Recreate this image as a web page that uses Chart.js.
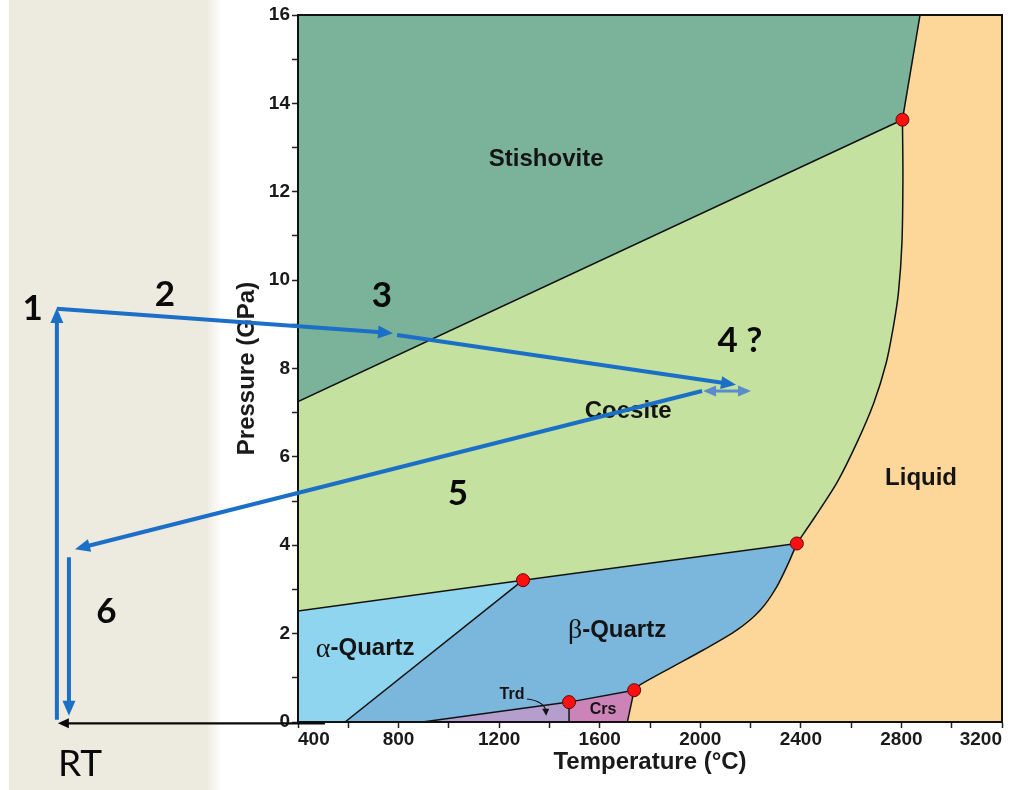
<!DOCTYPE html>
<html>
<head>
<meta charset="utf-8">
<script src="https://cdn.jsdelivr.net/npm/chart.js@4.4.1/dist/chart.umd.min.js"></script>
<style>
  html, body { margin: 0; padding: 0; background: #ffffff; }
  #wrap { width: 1012px; height: 790px; }
</style>
</head>
<body>
<div id="wrap"><canvas id="phase" width="1012" height="790"></canvas></div>
<script>
// ---- SiO2 phase boundaries: temperature (°C) and pressure (GPa) ----
const stishCoesT = [400, 2804];
const stishCoesP = [7.25, 13.63];
const stishLiqT = [2804, 2874];
const stishLiqP = [13.63, 16];
const coesLiqT = [2804, 2806, 2802, 2788, 2768, 2739, 2690, 2622, 2543, 2457, 2384];
const coesLiqP = [13.63, 12.34, 10.84, 9.71, 8.95, 8.12, 7.22, 6.31, 5.41, 4.65, 4.04];
const coesAqzT = [400, 1295];
const coesAqzP = [2.51, 3.21];
const coesBqzT = [1295, 2384];
const coesBqzP = [3.21, 4.04];
const aqzBqzT = [587, 1295];
const aqzBqzP = [0, 3.21];
const bqzLiqT = [2384, 2350, 2304, 2238, 2145, 2012, 1880, 1760, 1737];
const bqzLiqP = [4.04, 3.59, 3.06, 2.53, 2.08, 1.63, 1.22, 0.84, 0.72];
const bqzCrsT = [1478, 1737];
const bqzCrsP = [0.45, 0.72];
const crsLiqT = [1737, 1710];
const crsLiqP = [0.72, 0];
const trdBqzT = [895, 1478];
const trdBqzP = [0, 0.45];
const trdCrsT = [1478, 1478];
const trdCrsP = [0.45, 0];

// invariant points
const tripleT = [1295, 1478, 1737, 2384, 2804];
const tripleP = [3.21, 0.45, 0.72, 4.04, 13.63];

// axis extents and labelled ticks
const tempRange = [400, 3200];
const pressRange = [0, 16];
const tempTicks = [400, 800, 1200, 1600, 2000, 2400, 2800, 3200];
const pressTicks = [0, 2, 4, 6, 8, 10, 12, 14, 16];

// experiment path legs (the room-temperature side lies left of the T axis)
const legNames = ['1', '2', '3', '5', '6'];
const legFromT = [-559, -559, 794, 2007, -511];
const legFromP = [0.05, 9.35, 8.76, 7.49, 3.73];
const legToT = [-559, 778, 2142, -487, -511];
const legToP = [9.37, 8.80, 7.63, 3.91, 0.14];
// step 4: uncertain holding temperature
const holdT = [2011, 2202];
const holdP = [7.49, 7.49];
// quench back to room temperature at ambient pressure
const rtT = [507, -555];
const rtP = [-0.03, -0.03];

// ---- helpers ----
const zip = (T, P) => T.map((t, i) => ({ x: t, y: P[i] }));
const rev = a => a.slice().reverse();

const poly = {
  stish: [{ x: 400, y: 16 }, ...rev(zip(stishLiqT, stishLiqP)), ...rev(zip(stishCoesT, stishCoesP))],
  coes: [...zip(stishCoesT, stishCoesP), ...zip(coesLiqT, coesLiqP), ...rev(zip(coesBqzT, coesBqzP)), ...rev(zip(coesAqzT, coesAqzP))],
  liq: [{ x: 3200, y: 16 }, { x: 3200, y: 0 }, ...rev(zip(crsLiqT, crsLiqP)), ...rev(zip(bqzLiqT, bqzLiqP)), ...rev(zip(coesLiqT, coesLiqP)), ...zip(stishLiqT, stishLiqP)],
  aqz: [{ x: 400, y: 0 }, ...zip(coesAqzT, coesAqzP), ...rev(zip(aqzBqzT, aqzBqzP))],
  bqz: [...zip(aqzBqzT, aqzBqzP), ...zip(coesBqzT, coesBqzP), ...zip(bqzLiqT, bqzLiqP), ...rev(zip(bqzCrsT, bqzCrsP)), ...rev(zip(trdBqzT, trdBqzP))],
  trd: [...zip(trdBqzT, trdBqzP), ...zip(trdCrsT, trdCrsP)],
  crs: [...rev(zip(trdCrsT, trdCrsP)), ...zip(bqzCrsT, bqzCrsP), ...zip(crsLiqT, crsLiqP)]
};
const phaseColor = {
  stish: '#7bb39a', coes: '#c4e19f', liq: '#fdd699', aqz: '#8fd5ef',
  bqz: '#7bb6dc', trd: '#b59ecd', crs: '#cc84b8'
};

const regionSets = Object.keys(poly).map(k => ({
  data: poly[k], showLine: true, fill: 'shape', tension: 0,
  backgroundColor: phaseColor[k], borderColor: phaseColor[k], borderWidth: 1,
  pointRadius: 0, order: 30
}));

const boundaries = [
  [stishCoesT, stishCoesP, 0], [stishLiqT, stishLiqP, 0], [coesLiqT, coesLiqP, 0.25],
  [coesAqzT, coesAqzP, 0], [coesBqzT, coesBqzP, 0], [aqzBqzT, aqzBqzP, 0],
  [bqzLiqT, bqzLiqP, 0.25], [bqzCrsT, bqzCrsP, 0], [crsLiqT, crsLiqP, 0],
  [trdBqzT, trdBqzP, 0], [trdCrsT, trdCrsP, 0]
];
const boundarySets = boundaries.map(([T, P, tn]) => ({
  data: zip(T, P), showLine: true, fill: false, tension: tn,
  borderColor: '#121212', borderWidth: 1.5, pointRadius: 0, order: 20
}));

const tripleSet = {
  data: zip(tripleT, tripleP), showLine: false, order: 10,
  pointRadius: 6.5, pointBackgroundColor: '#ff1010', pointBorderColor: '#5a0a0a', pointBorderWidth: 1
};

// ---- drawing helpers ----
const SANS = '"Liberation Sans", Arial, sans-serif';
const SERIF = '"Liberation Serif", "Times New Roman", serif';
const STEP = 'Lato, "Open Sans", sans-serif';

function arrowLine(ctx, x1, y1, x2, y2, o) {
  const a = Math.atan2(y2 - y1, x2 - x1);
  const c = Math.cos(a), s = Math.sin(a);
  const head = (tx, ty, dir) => {
    const bx = tx - dir * o.head * c, by = ty - dir * o.head * s;
    ctx.beginPath();
    ctx.moveTo(tx, ty);
    ctx.lineTo(bx + o.headW / 2 * s, by - o.headW / 2 * c);
    ctx.lineTo(bx - o.headW / 2 * s, by + o.headW / 2 * c);
    ctx.closePath();
    ctx.fill();
  };
  let sx = x1, sy = y1;
  if (o.both) { sx = x1 + o.head * 0.8 * c; sy = y1 + o.head * 0.8 * s; }
  const ex = x2 - o.head * 0.8 * c, ey = y2 - o.head * 0.8 * s;
  ctx.strokeStyle = o.color;
  ctx.fillStyle = o.color;
  ctx.lineWidth = o.width;
  ctx.lineCap = 'butt';
  ctx.beginPath();
  ctx.moveTo(sx, sy);
  ctx.lineTo(ex, ey);
  ctx.stroke();
  head(x2, y2, 1);
  if (o.both) head(x1, y1, -1);
}

const decor = {
  id: 'decor',
  beforeDraw(chart) {
    const ctx = chart.ctx;
    ctx.save();
    ctx.fillStyle = '#ffffff';
    ctx.fillRect(0, 0, chart.width, chart.height);
    ctx.fillStyle = '#edeae0';
    ctx.fillRect(9, 0, 199, chart.height);
    const g = ctx.createLinearGradient(206, 0, 222, 0);
    g.addColorStop(0, '#edeae0');
    g.addColorStop(1, 'rgba(237,234,224,0)');
    ctx.fillStyle = g;
    ctx.fillRect(206, 0, 16, chart.height);
    ctx.restore();
  },
  afterDraw(chart) {
    const ctx = chart.ctx;
    const xs = chart.scales.x, ys = chart.scales.y;
    const X = v => xs.getPixelForValue(v);
    const Y = v => ys.getPixelForValue(v);
    const a = chart.chartArea;
    ctx.save();

    // frame
    ctx.strokeStyle = '#111';
    ctx.lineWidth = 2;
    ctx.strokeRect(a.left, a.top, a.right - a.left, a.bottom - a.top);

    // phase names
    ctx.fillStyle = '#141414';
    ctx.textAlign = 'center';
    ctx.textBaseline = 'middle';
    const name = (txt, t, p, size) => {
      ctx.font = 'bold ' + size + 'px ' + SANS;
      ctx.fillText(txt, X(t), Y(p));
    };
    name('Stishovite', 1387, 12.74, 24);
    name('Coesite', 1713, 7.02, 24);
    name('Liquid', 2878, 5.52, 24);
    name('Trd', 1251, 0.63, 16);
    name('Crs', 1613, 0.29, 16);
    const greekName = (greek, rest, t, p) => {
      ctx.font = '28px ' + SERIF;
      const w1 = ctx.measureText(greek).width;
      ctx.font = 'bold 24px ' + SANS;
      const w2 = ctx.measureText(rest).width;
      const x0 = X(t) - (w1 + w2) / 2;
      ctx.textAlign = 'left';
      ctx.font = '28px ' + SERIF;
      ctx.fillText(greek, x0, Y(p) + 1);
      ctx.font = 'bold 24px ' + SANS;
      ctx.fillText(rest, x0 + w1, Y(p));
      ctx.textAlign = 'center';
    };
    greekName('\u03b1', '-Quartz', 667, 1.67);
    greekName('\u03b2', '-Quartz', 1669, 2.08);

    // Trd pointer
    const p0 = [X(1310), Y(0.52)], pc = [X(1375), Y(0.48)], p1 = [X(1387), Y(0.14)];
    ctx.strokeStyle = '#141414';
    ctx.lineWidth = 1.2;
    ctx.beginPath();
    ctx.moveTo(p0[0], p0[1]);
    ctx.quadraticCurveTo(pc[0], pc[1], p1[0], p1[1] - 5);
    ctx.stroke();
    ctx.fillStyle = '#141414';
    ctx.beginPath();
    ctx.moveTo(p1[0], p1[1]);
    ctx.lineTo(p1[0] - 4, p1[1] - 7);
    ctx.lineTo(p1[0] + 3, p1[1] - 7);
    ctx.closePath();
    ctx.fill();

    // experiment path
    const blue = '#1b6fc6';
    legNames.forEach((n, i) => {
      arrowLine(ctx, X(legFromT[i]), Y(legFromP[i]), X(legToT[i]), Y(legToP[i]),
        { color: blue, width: 4, head: 15, headW: 13 });
    });
    arrowLine(ctx, X(holdT[0]), Y(holdP[0]), X(holdT[1]), Y(holdP[1]),
      { color: '#5a8bcb', width: 3, head: 13, headW: 11, both: true });
    arrowLine(ctx, X(rtT[0]), Y(rtP[0]), X(rtT[1]), Y(rtP[1]),
      { color: '#0a0a0a', width: 2.2, head: 11, headW: 10 });

    // step numbers
    ctx.fillStyle = '#0a0a0a';
    ctx.font = 'bold 35px ' + STEP;
    ctx.textAlign = 'center';
    ctx.textBaseline = 'middle';
    const step = (txt, t, p) => ctx.fillText(txt, X(t), Y(p));
    step('1', -655, 9.35);
    step('2', -129, 9.66);
    step('3', 734, 9.64);
    step('4 ?', 2158, 8.62);
    step('5', 1036, 5.16);
    step('6', -362, 2.5);
    ctx.font = '37px ' + STEP;
    ctx.fillText('RT', X(-467), Y(-0.95));

    ctx.restore();
  }
};

new Chart(document.getElementById('phase'), {
  type: 'scatter',
  data: { datasets: [tripleSet, ...boundarySets, ...regionSets] },
  options: {
    responsive: false,
    animation: false,
    devicePixelRatio: 1,
    layout: { padding: { left: 225, top: 15, right: 10, bottom: 0 } },
    plugins: { legend: { display: false }, tooltip: { enabled: false } },
    scales: {
      x: {
        type: 'linear', min: tempRange[0], max: tempRange[1], z: 1,
        ticks: {
          stepSize: 200, autoSkip: false, maxRotation: 0, align: 'inner', padding: 0,
          color: '#1a1a1a', font: { family: SANS, weight: 'bold', size: 19 },
          callback: v => tempTicks.includes(v) ? String(v) : ''
        },
        grid: { drawOnChartArea: false, drawTicks: true, tickLength: 6, tickColor: '#222', tickWidth: 1.5 },
        border: { display: true, color: '#111', width: 2 },
        title: {
          display: true, text: 'Temperature (°C)', color: '#1a1a1a',
          font: { family: SANS, weight: 'bold', size: 24 }, padding: { top: 0, bottom: 13 }
        },
        afterFit(s) { s.height = 68; s.paddingLeft = 0; s.paddingRight = 0; }
      },
      y: {
        type: 'linear', min: pressRange[0], max: pressRange[1], z: 1,
        ticks: {
          stepSize: 1, autoSkip: false, padding: 2,
          color: '#1a1a1a', font: { family: SANS, weight: 'bold', size: 19 },
          callback: v => pressTicks.includes(v) ? String(v) : ''
        },
        grid: { drawOnChartArea: false, drawTicks: true, tickLength: 6, tickColor: '#222', tickWidth: 1.5 },
        border: { display: true, color: '#111', width: 2 },
        title: {
          display: true, text: 'Pressure (GPa)', color: '#1a1a1a',
          font: { family: SANS, weight: 'bold', size: 24 }, padding: { top: 8, bottom: 0 }
        },
        afterFit(s) { s.width = 73; s.paddingTop = 0; s.paddingBottom = 0; }
      }
    }
  },
  plugins: [decor]
});
</script>
</body>
</html>
